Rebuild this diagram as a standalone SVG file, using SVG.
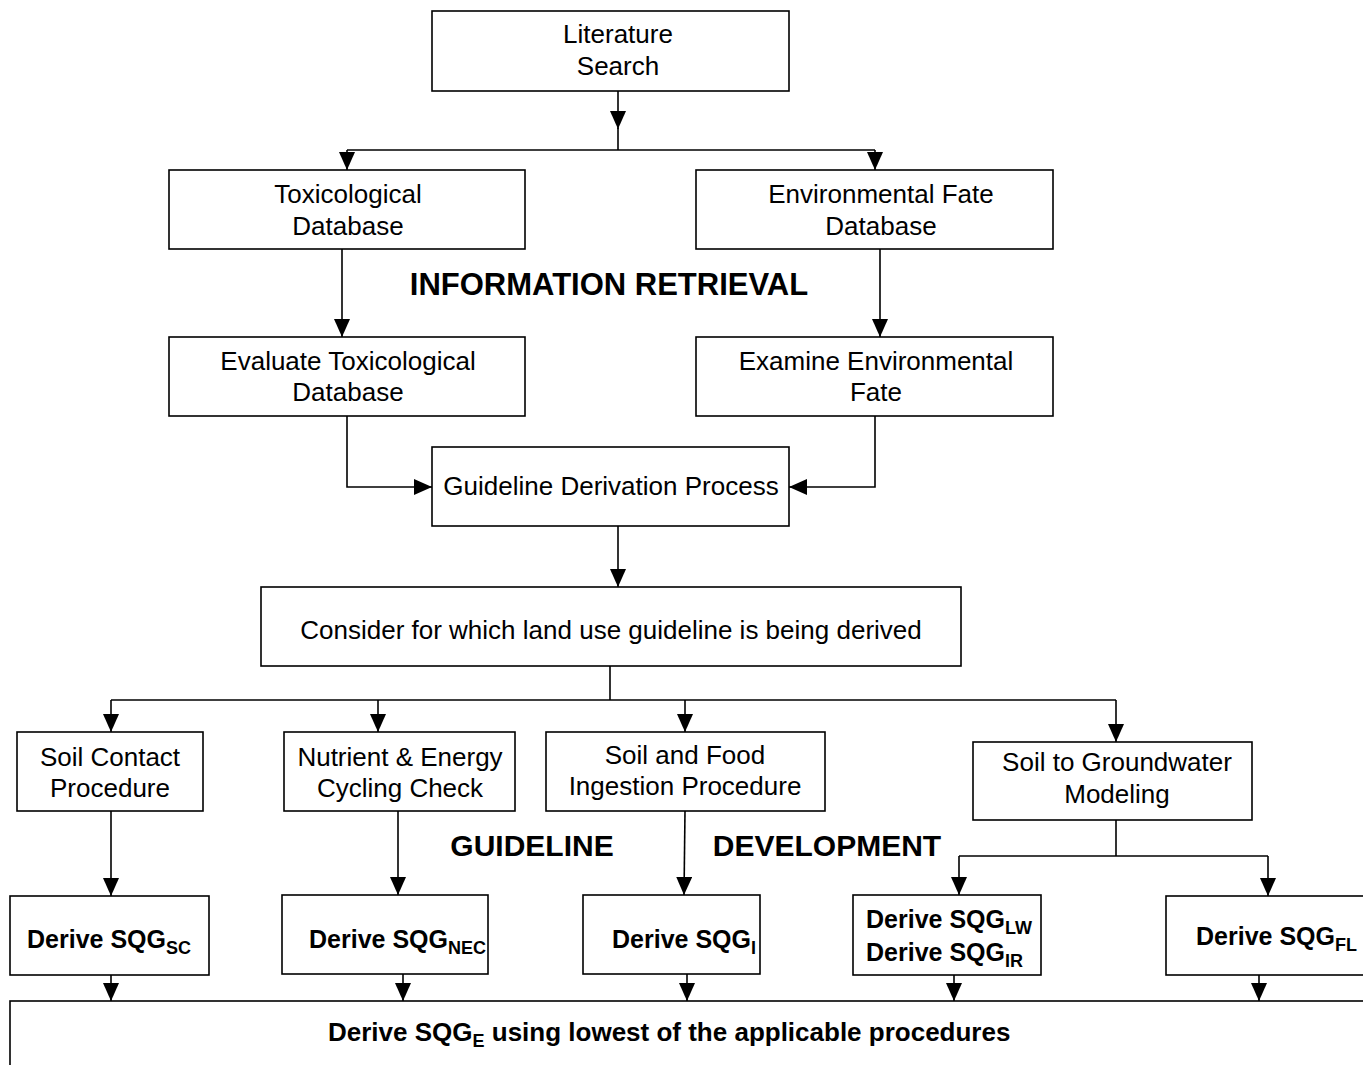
<svg xmlns="http://www.w3.org/2000/svg" width="1363" height="1065" viewBox="0 0 1363 1065">
<defs>
<marker id="arr" markerUnits="userSpaceOnUse" markerWidth="18" markerHeight="16" viewBox="0 0 18 16" refX="18" refY="8" orient="auto">
<path d="M0,0 L18,8 L0,16 Z" fill="#000"/>
</marker>
</defs>
<style>
rect{fill:#fff;stroke:#000;stroke-width:1.6}
.c line,.c polyline{stroke:#000;stroke-width:1.6;fill:none}
.a{marker-end:url(#arr)}
text{font-family:"Liberation Sans",Arial,sans-serif;fill:#000}
.t{font-size:26px;text-anchor:middle}
.b{font-size:25px;font-weight:bold}
.bb{font-size:26px;font-weight:bold}
.s{font-size:18px}
.h{font-size:30px;font-weight:bold;text-anchor:middle}
.h2{font-size:31px;font-weight:bold;text-anchor:middle}
</style>
<rect x="0" y="0" width="1363" height="1065" style="fill:#fff;stroke:none"/>
<g class="c" id="connectors">
<line x1="618" y1="91" x2="618" y2="129" class="a"/>
<line x1="618" y1="128" x2="618" y2="150"/>
<line x1="347" y1="150" x2="875" y2="150"/>
<line x1="347" y1="150" x2="347" y2="170" class="a"/>
<line x1="875" y1="150" x2="875" y2="170" class="a"/>
<line x1="342" y1="249" x2="342" y2="337" class="a"/>
<line x1="880" y1="249" x2="880" y2="337" class="a"/>
<polyline points="347,416 347,487 432,487" class="a"/>
<polyline points="875,416 875,487 789,487" class="a"/>
<line x1="618" y1="526" x2="618" y2="587" class="a"/>
<line x1="610" y1="666" x2="610" y2="700"/>
<line x1="111" y1="700" x2="1116" y2="700"/>
<line x1="111" y1="700" x2="111" y2="732" class="a"/>
<line x1="378" y1="700" x2="378" y2="732" class="a"/>
<line x1="685" y1="700" x2="685" y2="732" class="a"/>
<line x1="1116" y1="700" x2="1116" y2="742" class="a"/>
<line x1="111" y1="811" x2="111" y2="896" class="a"/>
<line x1="398" y1="811" x2="398" y2="895" class="a"/>
<line x1="685" y1="811" x2="684" y2="895" class="a"/>
<line x1="1116" y1="820" x2="1116" y2="856"/>
<line x1="959" y1="856" x2="1268" y2="856"/>
<line x1="959" y1="856" x2="959" y2="895" class="a"/>
<line x1="1268" y1="856" x2="1268" y2="896" class="a"/>
<line x1="111" y1="975" x2="111" y2="1001" class="a"/>
<line x1="403" y1="974" x2="403" y2="1001" class="a"/>
<line x1="687" y1="974" x2="687" y2="1001" class="a"/>
<line x1="954" y1="975" x2="954" y2="1001" class="a"/>
<line x1="1259" y1="975" x2="1259" y2="1001" class="a"/>
</g>
<g id="lit"><rect x="432" y="11" width="357" height="80"/><text class="t" x="618" y="43">Literature</text><text class="t" x="618" y="75">Search</text></g>
<g id="tox"><rect x="169" y="170" width="356" height="79"/><text class="t" x="348" y="203">Toxicological</text><text class="t" x="348" y="235">Database</text></g>
<g id="env"><rect x="696" y="170" width="357" height="79"/><text class="t" x="881" y="203">Environmental Fate</text><text class="t" x="881" y="235">Database</text></g>
<g id="label-info"><text class="h2" x="609" y="295">INFORMATION RETRIEVAL</text></g>
<g id="evaltox"><rect x="169" y="337" width="356" height="79"/><text class="t" x="348" y="370">Evaluate Toxicological</text><text class="t" x="348" y="401">Database</text></g>
<g id="exam"><rect x="696" y="337" width="357" height="79"/><text class="t" x="876" y="370">Examine Environmental</text><text class="t" x="876" y="401">Fate</text></g>
<g id="gdp"><rect x="432" y="447" width="357" height="79"/><text class="t" x="611" y="495">Guideline Derivation Process</text></g>
<g id="consider"><rect x="261" y="587" width="700" height="79"/><text class="t" x="611" y="639">Consider for which land use guideline is being derived</text></g>
<g id="soilcontact"><rect x="17" y="732" width="186" height="79"/><text class="t" x="110" y="766">Soil Contact</text><text class="t" x="110" y="797">Procedure</text></g>
<g id="nutrient"><rect x="284" y="732" width="231" height="79"/><text class="t" x="400" y="766">Nutrient &amp; Energy</text><text class="t" x="400" y="797">Cycling Check</text></g>
<g id="soilfood"><rect x="546" y="732" width="279" height="79"/><text class="t" x="685" y="764">Soil and Food</text><text class="t" x="685" y="795">Ingestion Procedure</text></g>
<g id="groundwater"><rect x="973" y="742" width="279" height="78"/><text class="t" x="1117" y="771">Soil to Groundwater</text><text class="t" x="1117" y="803">Modeling</text></g>
<g id="label-dev"><text class="h" x="532" y="856">GUIDELINE</text><text class="h" x="827" y="856">DEVELOPMENT</text></g>
<g id="dsc"><rect x="10" y="896" width="199" height="79"/><text class="b" x="27" y="948">Derive SQG<tspan class="s" dy="6">SC</tspan></text></g>
<g id="dnec"><rect x="282" y="895" width="206" height="79"/><text class="b" x="309" y="948">Derive SQG<tspan class="s" dy="6">NEC</tspan></text></g>
<g id="di"><rect x="583" y="895" width="177" height="79"/><text class="b" x="612" y="948">Derive SQG<tspan class="s" dy="6">I</tspan></text></g>
<g id="dlw"><rect x="853" y="895" width="188" height="80"/><text class="b" x="866" y="928">Derive SQG<tspan class="s" dy="6">LW</tspan></text><text class="b" x="866" y="961">Derive SQG<tspan class="s" dy="6">IR</tspan></text></g>
<g id="dfl"><rect x="1166" y="896" width="230" height="79"/><text class="b" x="1196" y="945">Derive SQG<tspan class="s" dy="6">FL</tspan></text></g>
<g id="final"><rect x="10" y="1001" width="1400" height="100"/><text class="bb" x="328" y="1041">Derive SQG<tspan class="s" dy="6">E</tspan><tspan dy="-6"> using lowest of the applicable procedures</tspan></text></g>
</svg>
